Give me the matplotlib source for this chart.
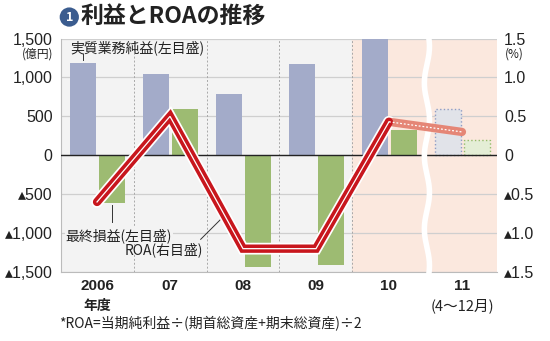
import numpy as np
import matplotlib.pyplot as plt

plt.rcParams['font.family'] = ['Noto Sans CJK JP', 'DejaVu Sans']

# データ
years = ['2006', '07', '08', '09', '10', '11']
x_pos = [0, 1, 2, 3, 4, 5]
gyomu = [1180, 1050, 790, 1170, 1500, 590]      # 実質業務純益(億円)
saishu = [-610, 600, -1430, -1410, 320, 200]     # 最終損益(億円)
roa = [-0.6, 0.5, -1.2, -1.2, 0.43, 0.3]         # ROA(%)

left_ticks = [1500, 1000, 500, 0, -500, -1000, -1500]
right_ticks = [1.5, 1.0, 0.5, 0, -0.5, -1.0, -1.5]

blue = '#a3abc9'
green = '#9dbb72'
red = '#c8161d'
num_font = ['Liberation Sans', 'DejaVu Sans']

fig = plt.figure(figsize=(5.5, 3.41), dpi=100)
ax = fig.add_axes([0.111, 0.2023, 0.7926, 0.6847])
ax2 = ax.twinx()

ax.set_xlim(-0.493, 5.48)
ax.set_ylim(-1500, 1500)
ax2.set_ylim(-1.5, 1.5)

# 背景
ax.axvspan(-0.493, 3.5, color='#f3f3f3', zorder=0)
ax.axvspan(3.5, 5.48, color='#fbe8de', zorder=0)
for v in left_ticks:
    ax.axhline(v, color='#cfcfcf', lw=0.9, zorder=1)
for xv in [0.5, 1.5, 2.5, 3.5]:
    ax.axvline(xv, color='#a8a8a8', lw=0.7, ls=(0, (2, 2)), zorder=1)

# 棒グラフ
w = 0.355
ax.bar([x - 0.19 for x in x_pos[:5]], gyomu[:5], width=w, color=blue, zorder=2)
ax.bar([x + 0.205 for x in x_pos[:5]], saishu[:5], width=w, color=green, zorder=2)
ax.bar(x_pos[5] - 0.19, gyomu[5], width=w, facecolor='#e1e3e9', edgecolor='#8f9cc4',
       lw=1.0, ls=':', zorder=2)
ax.bar(x_pos[5] + 0.205, saishu[5], width=w, facecolor='#e4eed6', edgecolor='#93bb6a',
       lw=1.0, ls=':', zorder=2)
ax.axhline(0, color='#222222', lw=1.0, zorder=3)

# ROA
ax2.plot(x_pos[:5], roa[:5], color='white', lw=8.5, solid_joinstyle='miter',
         solid_capstyle='round', zorder=4)
ax2.plot(x_pos[4:], roa[4:], color='#e58676', lw=6, solid_capstyle='round', zorder=5)
ax2.plot(x_pos[4:], roa[4:], color='white', lw=0.9, ls=(0, (1.5, 1.5)), zorder=6)
ax2.plot(x_pos[:5], roa[:5], color=red, lw=6, solid_joinstyle='miter',
         solid_capstyle='round', zorder=5)
ax2.plot(x_pos[:5], roa[:5], color='white', lw=0.9, solid_joinstyle='miter', zorder=6)

# 軸
for a in (ax, ax2):
    a.tick_params(length=0)
    for s in a.spines.values():
        s.set_visible(False)
ax.spines['left'].set_visible(True)
ax.spines['left'].set_color('#bbbbbb')
ax.spines['bottom'].set_visible(True)
ax.spines['bottom'].set_color('#bbbbbb')

def fmt_left(v):
    s = f'{abs(v):,}'
    return ('▴' + s) if v < 0 else s

def fmt_right(v):
    if v == 0:
        return '0'
    s = f'{abs(v):.1f}'
    return ('▴' + s) if v < 0 else s

ax.set_yticks(left_ticks)
ax.set_yticklabels([fmt_left(v) for v in left_ticks], fontsize=11.5, color='#222222',
                   family=num_font)
ax.tick_params(axis='y', pad=6)
ax2.set_yticks(right_ticks)
ax2.set_yticklabels([fmt_right(v) for v in right_ticks], fontsize=11.5, color='#222222',
                    family=num_font)
ax2.tick_params(axis='y', pad=5)

ax.set_xticks(x_pos)
ax.set_xticklabels(years, fontsize=11, fontweight='bold', color='#222222',
                   family=num_font)
ax.tick_params(axis='x', pad=5)

fig.text(0.068, 0.842, '(億円)', fontsize=8.5, ha='center', va='center', color='#222222')
fig.text(0.935, 0.842, '(%)', fontsize=8.5, ha='center', va='center', color='#222222')
ax.text(0, -0.115, '年度', transform=ax.get_xaxis_transform(), ha='center',
        va='top', fontsize=10, fontweight='bold', color='#222222')
ax.text(5, -0.115, '(4～12月)', transform=ax.get_xaxis_transform(), ha='center',
        va='top', fontsize=10.5, color='#222222')

# 注記
ax.text(-0.37, 1380, '実質業務純益(左目盛)', fontsize=10, va='center', color='#222222', zorder=7)
ax.plot([-0.19, -0.19], [1230, 1300], color='#333333', lw=0.7, zorder=7)
ax.text(-0.43, -1030, '最終損益(左目盛)', fontsize=10, va='center', color='#222222', zorder=7,
        bbox=dict(facecolor='#f3f3f3', edgecolor='none', pad=0.5))
ax.plot([0.205, 0.205], [-640, -860], color='#333333', lw=0.7, zorder=7)
ax.text(0.38, -1220, 'ROA(右目盛)', fontsize=10, va='center', color='#222222', zorder=7)
ax.plot([1.42, 1.73], [-1080, -790], color='#333333', lw=0.7, zorder=7)

# 省略線
yy = np.linspace(-0.05, 1.05, 200)
xx = 4.52 + 0.035 * np.sin((yy + 0.05) * 2 * np.pi * 3.2)
ax.plot(xx, yy, color='white', lw=4, transform=ax.get_xaxis_transform(),
        clip_on=False, zorder=8)

# タイトル
fig.text(0.126, 0.950, '1', fontsize=9, color='white', fontweight='bold',
         ha='center', va='center',
         bbox=dict(boxstyle='circle,pad=0.25', facecolor='#3b5c8f', edgecolor='none'))
fig.text(0.147, 0.952, '利益とROAの推移', fontsize=16.5, fontweight='bold',
         va='center', color='#222222')

fig.text(0.108, 0.040, '*ROA=当期純利益÷(期首総資産+期末総資産)÷2', fontsize=10,
         color='#222222')

fig.savefig('out.png', dpi=100)
